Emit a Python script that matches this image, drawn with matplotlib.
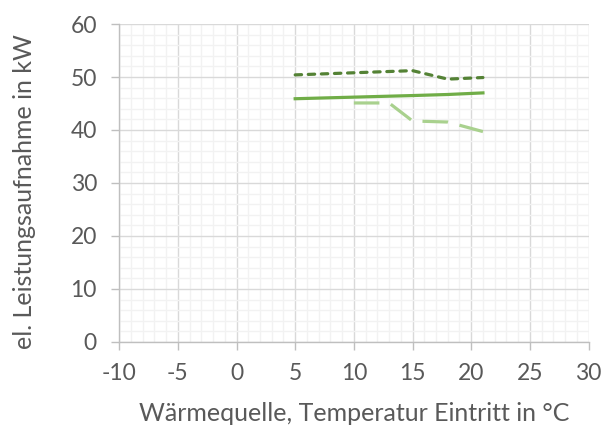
import matplotlib
matplotlib.use("Agg")
import matplotlib.pyplot as plt
from matplotlib.ticker import MultipleLocator

x_dark = [5, 10, 15, 18, 21]
y_dark = [50.4, 50.8, 51.2, 49.6, 49.9]
x_solid = [5, 10, 15, 18, 21]
y_solid = [45.9, 46.2, 46.5, 46.7, 47.0]
x_light = [10, 13, 15, 18, 21]
y_light = [45.1, 45.1, 41.7, 41.5, 39.7]

plt.rcParams['font.family'] = ['Lato', 'DejaVu Sans']
plt.rcParams['axes.unicode_minus'] = False

fig = plt.figure(figsize=(6.08, 4.29), dpi=100)
ax = fig.add_axes([0.196, 0.203, 0.772, 0.741])

ax.plot(x_dark, y_dark, color='#548235', lw=2.3, linestyle=(0, (2.0, 2.1)), dash_capstyle='round', zorder=3)
ax.plot(x_solid, y_solid, color='#70AD47', lw=2.3, zorder=3)
ax.plot(x_light, y_light, color='#A9D18E', lw=2.3, linestyle=(0, (8, 3.7)), zorder=3)

ax.set_xlim(-10, 30)
ax.set_ylim(0, 60)
ax.xaxis.set_major_locator(MultipleLocator(5))
ax.xaxis.set_minor_locator(MultipleLocator(1))
ax.yaxis.set_major_locator(MultipleLocator(10))
ax.yaxis.set_minor_locator(MultipleLocator(2))
ax.grid(which='major', color='#D9D9D9', lw=1.0)
ax.grid(which='minor', color='#F2F2F2', lw=1.0)
ax.set_axisbelow(True)

for s in ['top', 'right']:
    ax.spines[s].set_visible(False)
for s in ['left', 'bottom']:
    ax.spines[s].set_color('#BFBFBF')
    ax.spines[s].set_linewidth(1.0)

ax.tick_params(which='major', length=6, width=1, color='#BFBFBF', labelsize=16.5, labelcolor='#595959')
ax.tick_params(axis='x', which='major', pad=9)
ax.tick_params(axis='y', which='major', pad=10)
ax.tick_params(which='minor', length=0)

ax.set_xlabel('Wärmequelle, Temperatur Eintritt in °C', fontsize=18, color='#595959')
ax.set_ylabel('el. Leistungsaufnahme in kW', fontsize=18, color='#595959')
ax.xaxis.set_label_coords(0.5, -0.19)
ax.yaxis.set_label_coords(-0.177, 0.472)

fig.savefig('out.png', dpi=100)
